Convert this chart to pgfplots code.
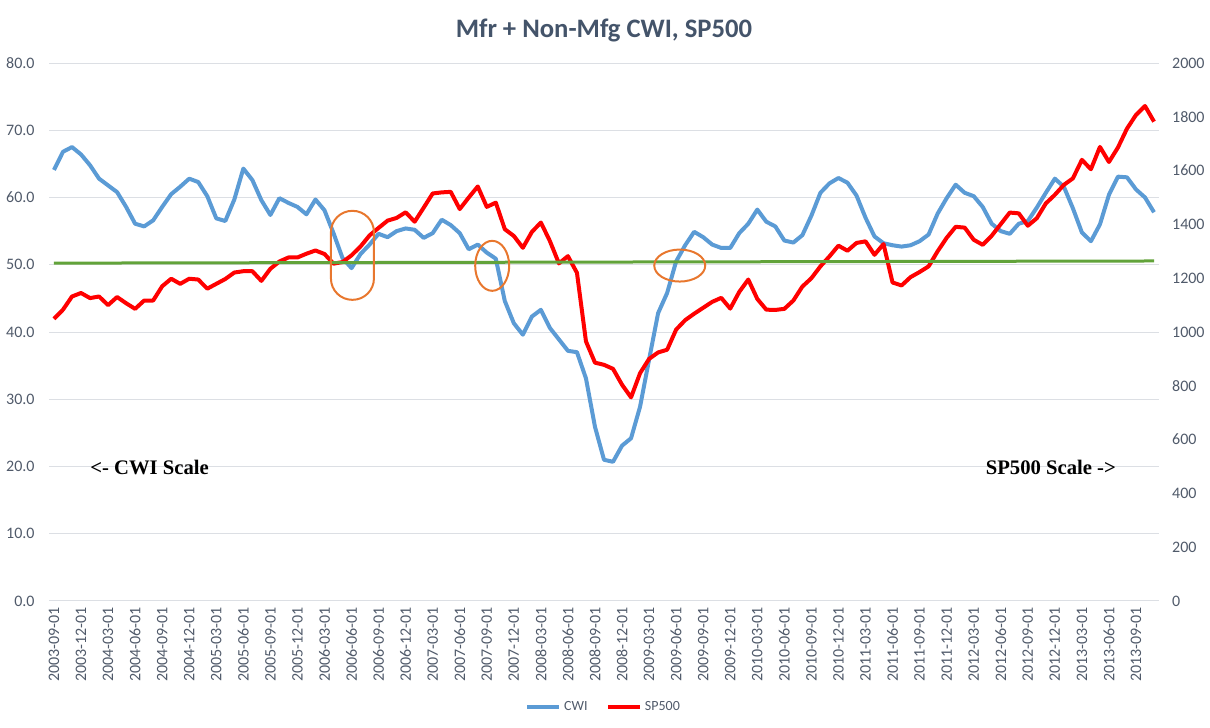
\documentclass[border=0pt]{standalone}
\usepackage{fontspec}
\setmainfont{Carlito}
\newfontfamily\timesfont{Liberation Serif}
\usepackage{pgfplots}
\usepackage{pgfplotstable}
\pgfplotsset{compat=1.18}
\usetikzlibrary{shapes.geometric}

\definecolor{cwiblue}{HTML}{5B9BD5}
\definecolor{spred}{HTML}{FF0000}
\definecolor{trendgreen}{HTML}{62A33A}
\definecolor{circorange}{HTML}{E8772E}
\definecolor{gridcol}{HTML}{DCDFE4}
\definecolor{labelcol}{HTML}{505A6A}
\definecolor{titlecol}{HTML}{44546A}

% monthly, 0 = 2003-09
\pgfplotstableread{
i cwi sp
0 64.1 1049
1 66.8 1083
2 67.5 1132
3 66.4 1145
4 64.8 1126
5 62.8 1132
6 61.8 1100
7 60.8 1130
8 58.6 1107
9 56.1 1086
10 55.7 1117
11 56.6 1117
12 58.6 1170
13 60.5 1198
14 61.6 1179
15 62.8 1198
16 62.3 1195
17 60.2 1161
18 56.9 1179
19 56.5 1197
20 59.7 1221
21 64.3 1226
22 62.6 1226
23 59.6 1190
24 57.4 1235
25 59.9 1262
26 59.2 1277
27 58.6 1277
28 57.5 1291
29 59.7 1303
30 58.1 1290
31 54.7 1254
32 51.0 1260
33 49.5 1285
34 51.6 1318
35 53.0 1359
36 54.6 1387
37 54.1 1414
38 55.0 1424
39 55.4 1445
40 55.2 1410
41 54.0 1462
42 54.7 1515
43 56.7 1519
44 55.9 1521
45 54.7 1457
46 52.3 1500
47 53.0 1541
48 51.8 1465
49 50.9 1481
50 44.6 1382
51 41.3 1357
52 39.6 1313
53 42.3 1372
54 43.3 1407
55 40.6 1338
56 38.9 1255
57 37.2 1282
58 37.0 1220
59 33.1 965
60 25.9 886
61 21.0 878
62 20.7 863
63 23.1 804
64 24.2 757
65 28.9 847
66 35.9 900
67 42.8 924
68 45.8 934
69 50.5 1009
70 52.9 1044
71 54.9 1068
72 54.1 1090
73 53.0 1112
74 52.5 1127
75 52.5 1087
76 54.7 1149
77 56.1 1195
78 58.2 1123
79 56.4 1083
80 55.7 1082
81 53.6 1086
82 53.3 1117
83 54.4 1169
84 57.3 1200
85 60.7 1244
86 62.1 1281
87 62.9 1321
88 62.2 1302
89 60.3 1331
90 57.0 1337
91 54.2 1287
92 53.2 1327
93 52.9 1184
94 52.7 1173
95 52.9 1204
96 53.5 1223
97 54.5 1244
98 57.6 1300
99 59.9 1350
100 61.9 1391
101 60.7 1388
102 60.2 1343
103 58.6 1324
104 56.1 1358
105 55.0 1401
106 54.6 1444
107 56.1 1441
108 56.5 1395
109 58.5 1423
110 60.7 1478
111 62.8 1510
112 61.6 1547
113 58.4 1571
114 54.8 1640
115 53.5 1605
116 56.0 1688
117 60.4 1632
118 63.1 1686
119 63.0 1756
120 61.2 1807
121 60.0 1840
122 57.8 1782
}\datatable

\pgfplotsset{
  base/.style={
    width=831.8pt, height=403.5pt, scale only axis,
    at={(37.1pt,95.25pt)}, anchor=south west,
    xmin=-0.5, xmax=122.5,
    axis line style={draw=none},
    major tick length=0pt,
    tick label style={font=\fontsize{12}{14}\selectfont, text=labelcol},
    /pgf/number format/assume math mode=true,
  },
  legend image code/.code={\draw[#1] (0pt,0pt) -- (24pt,0pt);},
}

\begin{document}
\begin{tikzpicture}
\begin{axis}[base,
  ymin=0, ymax=80, ytick={0,10,...,80},
  ymajorgrids, grid style={gridcol, line width=0.75pt},
  yticklabel style={/pgf/number format/fixed, /pgf/number format/fixed zerofill,
    /pgf/number format/precision=1, anchor=east, inner sep=0pt, xshift=-11pt},
  xtick={0,3,...,120},
  xticklabels={2003-09-01,2003-12-01,2004-03-01,2004-06-01,2004-09-01,2004-12-01,2005-03-01,2005-06-01,2005-09-01,2005-12-01,2006-03-01,2006-06-01,2006-09-01,2006-12-01,2007-03-01,2007-06-01,2007-09-01,2007-12-01,2008-03-01,2008-06-01,2008-09-01,2008-12-01,2009-03-01,2009-06-01,2009-09-01,2009-12-01,2010-03-01,2010-06-01,2010-09-01,2010-12-01,2011-03-01,2011-06-01,2011-09-01,2011-12-01,2012-03-01,2012-06-01,2012-09-01,2012-12-01,2013-03-01,2013-06-01,2013-09-01},
  xticklabel style={rotate=90, anchor=east, inner sep=0pt},
  xticklabel shift=4.5pt,
  title={Mfr + Non-Mfg CWI, SP500},
  title style={font=\fontsize{20}{24}\selectfont\bfseries, text=titlecol,
    at={(0.5,1)}, anchor=center, yshift=18.75pt},
  legend columns=2,
  legend style={at={(0.5,0)}, anchor=center, yshift=-79.5pt, draw=none, fill=none,
    font=\fontsize{10.5}{12}\selectfont, text=labelcol,
    /tikz/every even column/.append style={column sep=12pt}},
]
\addplot[cwiblue, line width=3pt, line join=round] table[x=i, y=cwi] {\datatable};
\addlegendentry{CWI}
\addlegendimage{spred, line width=3pt}
\addlegendentry{SP500}
\end{axis}

\begin{axis}[base,
  ymin=0, ymax=2000, ytick={0,200,...,2000},
  yticklabel pos=right,
  yticklabel style={/pgf/number format/1000 sep={}, anchor=west, inner sep=0pt, xshift=10pt},
  xtick=\empty,
]
\addplot[spred, line width=3pt, line join=round] table[x=i, y=sp] {\datatable};
% linear trend, on the CWI scale (x25)
\addplot[trendgreen, line width=2.25pt] coordinates {(0,1256) (122,1264)};

\node[draw=circorange, line width=1.5pt, rounded corners=16pt, inner sep=0pt,
  minimum width=32.25pt, minimum height=66.75pt] at (axis cs:33.1,1285) {};
\node[ellipse, draw=circorange, line width=1.5pt, inner sep=0pt,
  minimum width=25.5pt, minimum height=37.5pt] at (axis cs:48.6,1246) {};
\node[ellipse, draw=circorange, line width=1.5pt, inner sep=0pt,
  minimum width=38.25pt, minimum height=24pt] at (axis cs:69.4,1247) {};

\node[anchor=west, inner sep=0pt, font=\timesfont\bfseries\fontsize{15.5}{18}\selectfont]
  at (axis cs:4.0,497) {<- CWI Scale};
\node[anchor=east, inner sep=0pt, font=\timesfont\bfseries\fontsize{15.5}{18}\selectfont]
  at (axis cs:117.8,497) {SP500 Scale ->};
\end{axis}

\pgfresetboundingbox
\useasboundingbox (0,0) rectangle (907.5pt,546pt);
\end{tikzpicture}
\end{document}
